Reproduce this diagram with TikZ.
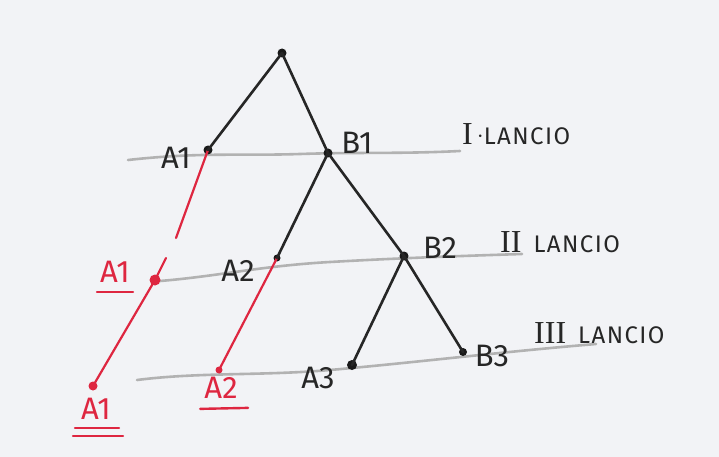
\documentclass[tikz,border=0pt]{standalone}
\usepackage{fontspec}
\setmainfont{Fira Sans}
\newfontfamily\romfont{Liberation Serif}
\newfontfamily\lancfont[LetterSpace=6]{Fira Sans}
\begin{document}
\begin{tikzpicture}[x=1pt,y=-1pt,
  blk/.style={line width=2.6pt,black!85,line cap=round},
  redl/.style={line width=2.2pt,color=penred,line cap=round},
  grayl/.style={line width=2.6pt,color=black!30,line cap=round},
  dot/.style={circle,fill=black!90,inner sep=0pt,minimum size=9pt},
  rdot/.style={circle,fill=penred,inner sep=0pt,minimum size=10pt},
  lbl/.style={font=\fontsize{31}{31}\selectfont,text=black!85,inner sep=0pt},
  rlbl/.style={font=\fontsize{31}{31}\selectfont,text=penred,inner sep=0pt},
  lanc/.style={font=\lancfont\fontsize{24}{24}\selectfont,text=black!85,inner sep=0pt,anchor=west},
  ul/.style={line width=2.4pt,color=penred,line cap=round}]
\definecolor{penred}{RGB}{222,38,64}
\definecolor{paper}{RGB}{242,243,246}
\fill[paper] (0,0) rectangle (719,457);
\useasboundingbox (0,0) rectangle (719,457);
% level lines
\coordinate (g1s) at (128,160); \coordinate (g1m) at (300,154); \coordinate (g1e) at (460,151);
\coordinate (g2s) at (160,281); \coordinate (g2m) at (330,262); \coordinate (g2e) at (522,254);
\coordinate (g3s) at (137,380); \coordinate (g3m) at (330,370); \coordinate (g3e) at (596,344);
\draw[grayl] (g1s) .. controls (200,152) and (240,156) .. (g1m) .. controls (360,152) and (400,154) .. (g1e);
\draw[grayl] (g2s) .. controls (220,276) and (260,266) .. (g2m) .. controls (400,258) and (460,256) .. (g2e);
\draw[grayl] (g3s) .. controls (200,372) and (260,376) .. (g3m) .. controls (420,362) and (500,352) .. (g3e);
% nodes
\node[dot] (root) at (282,53) {};
\node[dot] (a1) at (208,150) {};
\node[dot] (b1) at (328,153) {};
\node[dot,minimum size=7pt] (a2) at (277,258) {};
\node[dot] (b2) at (404,256) {};
\node[dot,minimum size=10pt] (a3) at (352,365) {};
\node[dot,minimum size=8pt] (b3) at (463,352) {};
\node[rdot,minimum size=11pt] (ra1) at (155,280) {};
\node[rdot,minimum size=9pt] (ra1b) at (93,386) {};
\node[rdot,minimum size=7pt] (ra2b) at (219,370) {};
% red lines
\coordinate (gapa) at (176,238);
\coordinate (gapb) at (166,258);
\draw[redl] (a1.center) -- (gapa);
\draw[redl] (gapb) -- (ra1.center) -- (ra1b.center);
\draw[redl] (a2.center) -- (ra2b.center);
% black tree
\draw[blk] (root.center) -- (a1.center);
\draw[blk] (root.center) -- (b1.center);
\draw[blk] (b1.center) -- (a2.center);
\draw[blk] (b1.center) -- (b2.center);
\draw[blk] (b2.center) -- (a3.center);
\draw[blk] (b2.center) -- (b3.center);
% labels
\node[lbl] (la1) at (176,158) {A1};
\node[lbl] (lb1) at (357,143) {B1};
\node[lbl] (la2) at (238,271) {A2};
\node[lbl] (lb2) at (440,248) {B2};
\node[lbl] (la3) at (318,378) {A3};
\node[lbl] (lb3) at (492,356) {B3};
\node[rlbl] (ra1l) at (115,272) {A1};
\node[rlbl] (ra1bl) at (96,409) {A1};
\node[rlbl] (ra2bl) at (221,388) {A2};
\draw[ul] (ra1l.south west) ++(-3,9) coordinate (u1a) -- ++(36,0) coordinate (u1b);
\draw[ul] (ra2bl.south west) ++(-4,10) coordinate (u2a) -- ++(48,-1) coordinate (u2b);
\draw[ul] (ra1bl.south west) ++(-6,8) coordinate (u3a) -- ++(44,0) coordinate (u3b);
\draw[ul] (ra1bl.south west) ++(-8,16) coordinate (u4a) -- ++(50,0) coordinate (u4b);
% lancio labels
\node[lanc] (l1) at (462,134) {{\romfont\fontsize{32}{32}\selectfont I}\,\raisebox{2pt}{$\cdot$}LANCIO};
\node[lanc] (l2) at (500,242) {{\romfont\fontsize{32}{32}\selectfont II}\enspace LANCIO};
\node[lanc] (l3) at (534,333) {{\romfont\fontsize{32}{32}\selectfont III}\enspace LANCIO};
\end{tikzpicture}
\end{document}
